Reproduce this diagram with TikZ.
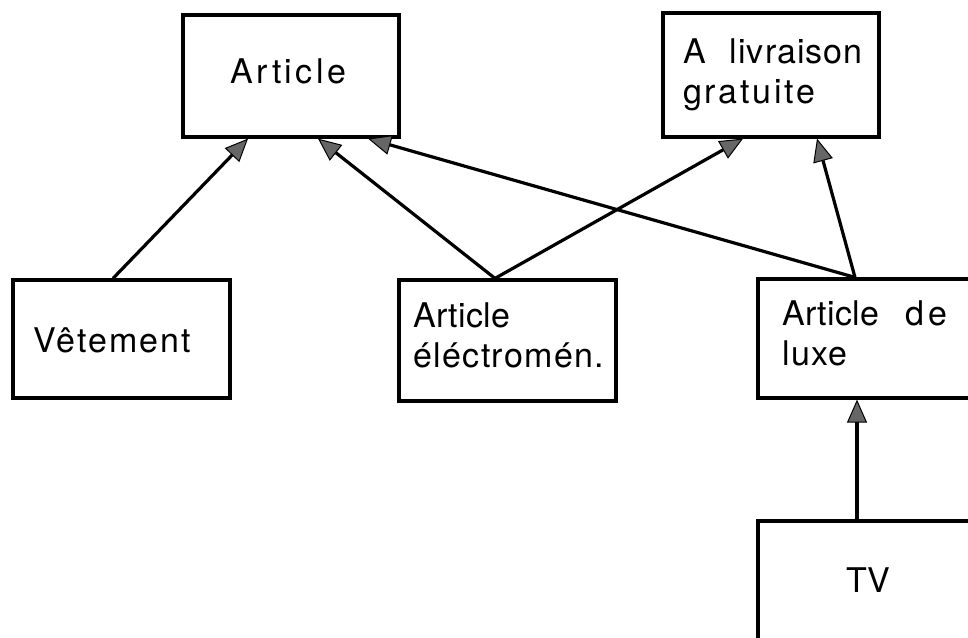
\documentclass[tikz,border=0pt]{standalone}
\usepackage{fontspec}
\setmainfont{TeX Gyre Heros}
\usetikzlibrary{arrows.meta,calc}

% letter-spaced text in a given amount
\newcommand{\spaced}[2]{{\addfontfeature{LetterSpace=#1}#2}}

\tikzset{
  cls/.style={draw=black, line width=3.2pt, fill=white, inner sep=0pt},
  lbl/.style={anchor=base west, inner sep=0pt, font=\fontsize{34}{40}\selectfont},
  inherit/.style={line width=3.2pt, draw=black,
    -{Triangle[length=23pt, width=20pt, fill=black!60, line width=1pt]}},
}

\begin{document}
\begin{tikzpicture}[x=1pt, y=-1pt]
  \useasboundingbox (0,0) rectangle (968,637);
  \clip (0,0) rectangle (968,637);

  % class boxes
  \node[cls, minimum width=216pt, minimum height=122pt] (art)  at (291,76)   {};
  \node[cls, minimum width=216pt, minimum height=124pt] (livr) at (771,75)   {};
  \node[cls, minimum width=217pt, minimum height=118pt] (vet)  at (121.5,339) {};
  \node[cls, minimum width=217pt, minimum height=121pt] (elec) at (507.5,340.5) {};
  \node[cls, minimum width=232pt, minimum height=119pt] (luxe) at (874,338.5) {};
  \node[cls, minimum width=232pt, minimum height=139pt] (tv)   at (874,590.5) {};

  % class names
  \node[lbl] (tart)  at (230,83)  {\spaced{10}{Article}};
  \node[lbl] (tliv1) at (683,63)  {\spaced{3}{A}\hspace{24pt}\spaced{3}{livraison}};
  \node[lbl] (tliv2) at (683,103) {\spaced{8}{gratuite}};
  \node[lbl] (tvet)  at (33,352)  {\spaced{6}{Vêtement}};
  \node[lbl] (tel1)  at (413,327) {\spaced{1}{Article}};
  \node[lbl] (tel2)  at (413,367) {\spaced{4}{éléctromén.}};
  \node[lbl] (tlx1)  at (782,325) {\spaced{1}{Article}\hspace{26pt}\spaced{10}{de}};
  \node[lbl] (tlx2)  at (782,365) {\spaced{4}{luxe}};
  \node[lbl] (ttv)   at (846,592) {TV};

  % generalisation arrows
  \draw[inherit] ($(vet.north)+(-8.5,0)$) -- ($(art.south)+(-43,0)$);
  \draw[inherit] ($(elec.north)+(-12.5,0)$) -- ($(art.south)+(27,0)$);
  \draw[inherit] ($(elec.north)+(-12.5,0)$) -- ($(livr.south)+(-28,0)$);
  \draw[inherit] ($(luxe.north)+(-19,0)$) -- ($(art.south)+(77,0)$);
  \draw[inherit] ($(luxe.north)+(-19,0)$) -- ($(livr.south)+(46,0)$);
  \draw[inherit] ($(tv.north)+(-17,0)$)   -- ($(luxe.south)+(-17,0)$);
\end{tikzpicture}
\end{document}
